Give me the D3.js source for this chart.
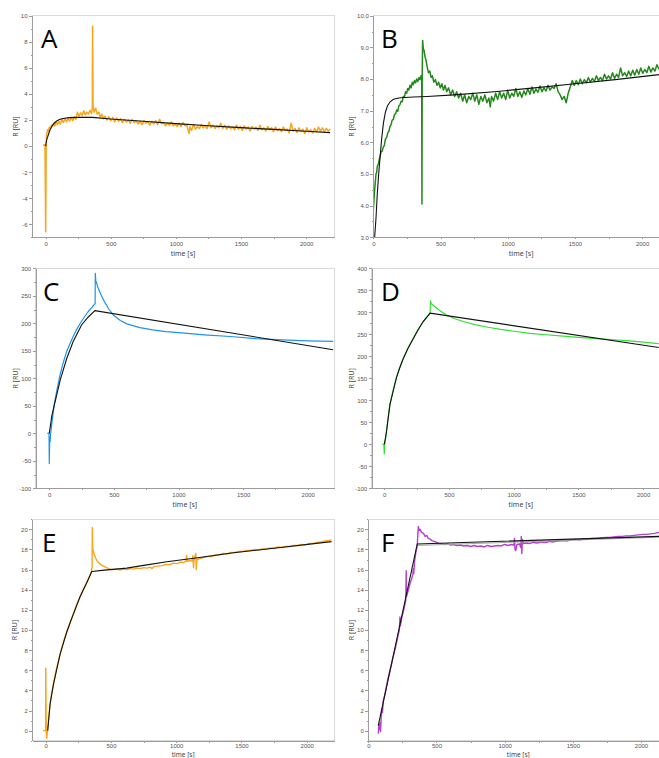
<!DOCTYPE html>
<html>
<head>
<meta charset="utf-8">
<script src="https://cdn.jsdelivr.net/npm/d3@7"></script>
<style>
body { margin: 0; background: #fff; }
svg { display: block; font-family: "Noto Sans", sans-serif; }
.tick text { fill: #555; font-size: 6px; }
.axis path, .axis line { stroke: #9c9c9c; shape-rendering: crispEdges; }
</style>
</head>
<body>
<svg id="chart" width="659" height="758"></svg>
<script>
// tick labels
const timeTicks = [0, 500, 1000, 1500, 2000];
const timeMinor = [250, 750, 1250, 1750];
const aTicks = [-6, -4, -2, 0, 2, 4, 6, 8, 10];
const aMinor = [-7, -5, -3, -1, 1, 3, 5, 7, 9];
const bTicks = [3, 4, 5, 6, 7, 8, 9, 10];
const bMinor = [3.5, 4.5, 5.5, 6.5, 7.5, 8.5, 9.5];
const cTicks = [-100, -50, 0, 50, 100, 150, 200, 250, 300];
const cMinor = [-75, -25, 25, 75, 125, 175, 225, 275];
const dTicks = [-100, -50, 0, 50, 100, 150, 200, 250, 300, 350, 400];
const dMinor = [-75, -25, 25, 75, 125, 175, 225, 275, 325, 375];
const efTicks = [0, 2, 4, 6, 8, 10, 12, 14, 16, 18, 20];
const efMinor = [-1, 1, 3, 5, 7, 9, 11, 13, 15, 17, 19, 21];

// series: [time s, response RU]
const aData = [[-20,0.05],[-10,0.1],[-5,0],[0,-6.57],[2,-3.4],[4,0.2],[8,0.9],[14,1.25],[20,1.1],[28,1.45],[36,1.35],[44,1.6],[52,1.5],[60,1.75],[70,1.55],[80,1.85],[90,1.65],[100,1.9],[112,1.7],[124,2.05],[136,1.8],[148,2.1],[160,1.85],[172,2.15],[184,1.9],[196,2.2],[208,1.95],[220,2.25],[232,2.05],[244,2.6],[256,2.3],[268,2.55],[280,2.35],[292,2.7],[304,2.4],[316,2.6],[328,2.45],[340,2.75],[352,2.5],[358,2.9],[360,9.2],[362,6.2],[364,3.0],[372,2.6],[384,2.9],[396,2.45],[408,2.6],[420,2.2],[432,2.45],[444,2.1],[456,2.3],[470,2.0],[485,2.25],[500,1.95],[515,2.2],[530,1.85],[545,2.15],[560,1.9],[575,2.1],[590,1.8],[605,2.05],[620,1.85],[635,2.0],[650,1.75],[665,2.05],[680,1.8],[695,1.95],[710,1.7],[725,1.9],[740,1.65],[755,1.95],[770,1.75],[785,1.85],[800,1.6],[815,1.9],[830,1.7],[845,1.95],[860,1.65],[875,2.05],[890,1.7],[905,1.8],[920,1.55],[935,1.75],[950,1.6],[965,1.85],[980,1.55],[995,1.7],[1010,1.5],[1025,1.75],[1040,1.5],[1055,1.8],[1070,1.55],[1085,1.6],[1100,0.95],[1108,1.5],[1120,1.2],[1135,1.65],[1150,1.3],[1165,1.5],[1180,1.35],[1195,1.65],[1210,1.4],[1225,1.55],[1240,1.35],[1255,1.85],[1270,1.4],[1285,1.6],[1300,1.35],[1315,1.55],[1330,1.4],[1345,1.75],[1360,1.35],[1375,1.6],[1390,1.3],[1405,1.55],[1420,1.35],[1435,1.45],[1450,1.25],[1465,1.6],[1480,1.3],[1495,1.5],[1510,1.2],[1525,1.55],[1540,1.3],[1555,1.45],[1570,1.15],[1585,1.5],[1600,1.3],[1615,1.45],[1630,1.2],[1645,1.6],[1660,1.25],[1675,1.4],[1690,1.15],[1705,1.5],[1720,1.25],[1735,1.4],[1750,1.1],[1765,1.45],[1780,1.2],[1795,1.35],[1810,1.1],[1825,1.45],[1840,1.2],[1855,1.3],[1870,1.0],[1885,1.75],[1900,1.15],[1915,1.35],[1930,1.05],[1945,1.4],[1960,1.1],[1975,1.3],[1990,0.95],[2005,1.4],[2020,1.1],[2035,1.25],[2050,1.0],[2065,1.35],[2080,1.1],[2095,1.45],[2110,1.15],[2125,1.4],[2140,1.1],[2155,1.35],[2170,1.15],[2184,1.3]];
const aFit = [[0,0],[5,0.35],[10,0.55],[20,0.85],[33,1.23],[50,1.55],[65,1.75],[84,1.92],[110,2.05],[135,2.12],[180,2.18],[250,2.2],[360,2.2],[500,2.07],[750,1.9],[1000,1.72],[1250,1.56],[1500,1.41],[1750,1.28],[2000,1.14],[2184,1.03]];

const bData = [[0,3.85],[4,4.1],[8,4.4],[12,4.6],[16,4.8],[20,5.0],[25,5.05],[30,5.25],[37,5.3],[44,5.45],[50,5.55],[58,5.7],[66,5.72],[74,5.85],[82,5.9],[90,6.1],[99,6.15],[108,6.3],[116,6.35],[124,6.5],[132,6.55],[140,6.7],[149,6.72],[158,6.88],[166,6.9],[174,7.02],[182,6.98],[190,7.15],[199,7.2],[207,7.3],[215,7.28],[223,7.45],[231,7.42],[240,7.6],[248,7.55],[256,7.7],[264,7.65],[273,7.8],[281,7.72],[290,7.9],[298,7.82],[306,7.95],[315,7.88],[323,8.0],[331,7.92],[340,8.05],[348,7.98],[355,8.1],[360,8.0],[362,4.05],[364,8.2],[367,9.22],[372,8.95],[378,8.9],[385,8.7],[392,8.6],[400,8.4],[410,8.2],[420,8.25],[430,8.05],[440,8.1],[450,7.9],[462,7.98],[474,7.8],[486,7.9],[498,7.72],[510,7.85],[522,7.65],[534,7.8],[546,7.6],[560,7.72],[575,7.5],[590,7.65],[605,7.45],[620,7.6],[635,7.4],[650,7.55],[665,7.3],[680,7.5],[695,7.25],[710,7.45],[725,7.35],[740,7.55],[755,7.3],[770,7.5],[785,7.2],[800,7.45],[815,7.3],[830,7.5],[845,7.25],[860,7.4],[870,7.12],[880,7.45],[895,7.3],[910,7.55],[925,7.35],[940,7.6],[955,7.4],[970,7.55],[985,7.35],[1000,7.65],[1015,7.4],[1030,7.55],[1045,7.45],[1060,7.7],[1075,7.45],[1090,7.6],[1105,7.42],[1120,7.62],[1135,7.5],[1150,7.7],[1165,7.52],[1180,7.75],[1195,7.55],[1210,7.68],[1225,7.58],[1240,7.78],[1255,7.6],[1270,7.72],[1285,7.62],[1300,7.8],[1315,7.65],[1330,7.75],[1345,7.7],[1360,7.85],[1375,7.6],[1390,7.5],[1405,7.35],[1420,7.45],[1435,7.25],[1450,7.55],[1465,7.75],[1480,7.95],[1495,7.8],[1510,7.95],[1525,7.82],[1540,8.0],[1555,7.85],[1570,7.98],[1585,7.88],[1600,8.05],[1615,7.9],[1630,8.02],[1645,7.92],[1660,8.1],[1675,7.95],[1690,8.05],[1705,7.95],[1720,8.15],[1735,8.0],[1750,8.1],[1765,8.0],[1780,8.2],[1795,8.02],[1810,8.15],[1825,8.05],[1840,8.35],[1855,8.1],[1870,8.2],[1885,8.08],[1900,8.25],[1915,8.1],[1930,8.28],[1945,8.12],[1960,8.3],[1975,8.15],[1990,8.35],[2005,8.18],[2020,8.3],[2035,8.2],[2050,8.4],[2065,8.22],[2080,8.35],[2095,8.25],[2110,8.45],[2127,8.3]];
const bFit = [[10,3.0],[20,3.6],[30,4.4],[40,5.0],[50,5.5],[62,6.1],[75,6.6],[90,6.95],[105,7.15],[125,7.28],[150,7.36],[200,7.41],[300,7.43],[400,7.45],[600,7.5],[900,7.6],[1200,7.72],[1500,7.85],[1800,7.98],[2127,8.14]];

const cData = [[-15,0],[-2,0],[0,-55],[2,-30],[4,-8],[7,-15],[10,-2],[15,8],[25,28],[40,55],[60,80],[85,108],[110,130],[135,149],[160,163],[185,176],[210,188],[240,200],[270,211],[300,221],[330,229],[355,236],[356,291],[360,278],[375,266],[400,252],[430,238],[460,226],[500,214],[550,205],[600,199],[700,192],[800,188],[900,185],[1000,183],[1200,179],[1400,176],[1600,172],[1800,170],[2000,168],[2196,167]];
const cFit = [[0,0],[20,32],[50,62],[85,97],[135,136],[185,167],[250,197],[300,211],[353,223],[2196,152]];

const dData = [[-15,0],[-3,0],[0,-22],[3,-5],[6,5],[12,18],[18,32],[30,62],[44,92],[70,125],[95,153],[120,175],[147,195],[185,220],[224,241],[260,261],[301,279],[330,290],[353,298],[355,303],[357,326],[362,320],[378,316],[420,306],[481,294],[540,286],[610,279],[700,272],[800,266],[900,261],[1000,257],[1125,252],[1250,249],[1382,246],[1500,243],[1640,240],[1800,237],[1897,235],[2000,232],[2121,229]];
const dFit = [[0,0],[10,15],[18,30],[44,90],[70,122],[95,152],[120,174],[147,195],[185,219],[224,240],[260,259],[301,279],[355,298],[2121,220]];

const eData = [[-20,0],[-5,0],[-1,0.05],[0,6.2],[2,3.2],[4,-0.2],[8,-0.75],[11,-0.3],[15,0.1],[22,1.2],[33,2.6],[45,3.7],[59,4.6],[80,6.0],[110,7.6],[135,8.8],[161,9.8],[185,10.7],[212,11.6],[240,12.6],[263,13.3],[290,14.1],[314,14.7],[335,15.3],[350,15.8],[355,16.3],[357,20.2],[359,18.5],[362,17.9],[370,17.6],[380,17.2],[392,16.9],[404,16.7],[420,16.5],[442,16.35],[465,16.2],[493,16.05],[520,16.0],[545,16.05],[570,15.95],[595,16.05],[620,16.0],[645,16.1],[672,16.05],[700,16.15],[725,16.1],[750,16.2],[775,16.15],[800,16.25],[815,16.1],[830,16.3],[860,16.35],[890,16.4],[920,16.5],[950,16.5],[980,16.65],[1005,16.6],[1030,16.75],[1055,16.7],[1075,16.85],[1080,17.4],[1083,16.8],[1100,16.9],[1120,16.85],[1128,17.4],[1132,16.2],[1137,17.0],[1150,17.6],[1153,16.0],[1158,17.0],[1180,17.1],[1210,17.2],[1240,17.3],[1270,17.3],[1300,17.45],[1330,17.45],[1360,17.6],[1390,17.55],[1420,17.7],[1450,17.7],[1480,17.8],[1510,17.8],[1540,17.9],[1570,17.9],[1600,18.0],[1630,17.95],[1660,18.05],[1690,18.05],[1720,18.15],[1750,18.1],[1780,18.25],[1810,18.2],[1840,18.3],[1870,18.3],[1900,18.4],[1930,18.4],[1960,18.5],[1990,18.45],[2020,18.6],[2050,18.6],[2080,18.7],[2110,18.75],[2140,18.85],[2170,18.9],[2190,18.95]];
const eFit = [[15,0],[33,2.6],[59,4.6],[110,7.6],[161,9.8],[212,11.6],[263,13.3],[314,14.7],[353,15.82],[450,15.95],[621,16.15],[750,16.42],[928,16.78],[1150,17.15],[1439,17.67],[1800,18.2],[2190,18.78]];

const fData = [[73,-0.3],[78,0.6],[82,0.1],[86,0.8],[90,-0.1],[95,1.5],[100,2.2],[104,1.8],[110,3.0],[120,3.5],[135,4.5],[145,5.2],[159,6.0],[170,6.6],[180,7.2],[195,8.0],[208,8.8],[220,9.6],[228,10.0],[232,11.3],[235,10.4],[245,11.2],[258,11.9],[268,12.5],[275,13.0],[278,15.9],[280,13.3],[290,13.8],[305,14.6],[318,15.1],[326,15.5],[330,16.1],[333,15.6],[340,16.9],[350,17.8],[359,18.4],[362,19.2],[367,20.3],[372,19.9],[380,20.0],[391,19.7],[405,19.6],[416,19.3],[428,19.4],[440,19.1],[455,19.0],[470,18.85],[485,18.8],[500,18.7],[520,18.6],[540,18.55],[560,18.5],[580,18.55],[600,18.45],[625,18.5],[650,18.4],[675,18.45],[700,18.35],[725,18.4],[750,18.3],[775,18.4],[800,18.3],[825,18.35],[850,18.25],[875,18.4],[900,18.3],[925,18.35],[950,18.4],[975,18.35],[1000,18.5],[1025,18.4],[1050,18.5],[1068,18.45],[1072,19.1],[1076,18.0],[1082,17.9],[1090,18.5],[1110,18.55],[1118,18.2],[1122,19.3],[1126,17.6],[1130,19.0],[1140,18.6],[1160,18.65],[1186,18.6],[1210,18.7],[1240,18.65],[1270,18.75],[1300,18.7],[1330,18.8],[1360,18.75],[1390,18.85],[1430,18.9],[1460,18.85],[1490,18.95],[1520,19.0],[1550,18.95],[1580,19.05],[1610,19.0],[1640,19.1],[1675,19.1],[1710,19.15],[1740,19.2],[1770,19.2],[1800,19.25],[1830,19.3],[1860,19.3],[1890,19.35],[1919,19.35],[1950,19.4],[1980,19.45],[2010,19.5],[2040,19.5],[2070,19.55],[2100,19.6],[2132,19.7]];
const fFit = [[73,0.5],[359,18.55],[2132,19.3]];
const fFitGrey = [[359,18.4],[2132,19.22]];

const svg = d3.select("#chart");

const panels = [
    { id: "A", data: aData, fit: aFit, color: "#f9a51c", width: 1.5, left: 32, right: 334, top: 15.7, bottom: 237.3, xDomain: [-105, 2214], yDomain: [-7, 10], ticks: aTicks, minor: aMinor, fmt: d => String(d), letterX: 41, labelX: 17.5 },
    { id: "B", data: bData, fit: bFit, color: "#24891c", width: 1.5, left: 373.3, right: 669, top: 15.7, bottom: 237.3, xDomain: [0, 2200], yDomain: [3, 10], ticks: bTicks, minor: bMinor, fmt: d => d.toFixed(1), letterX: 381, labelX: 354 },
    { id: "C", data: cData, fit: cFit, color: "#1e93ee", width: 1.2, left: 35.7, right: 334, top: 268.3, bottom: 488.3, xDomain: [-105, 2203], yDomain: [-100, 300], ticks: cTicks, minor: cMinor, fmt: d => String(d), letterX: 43, labelX: 17.5 },
    { id: "D", data: dData, fit: dFit, color: "#33e033", width: 1.2, left: 371.7, right: 670, top: 268.3, bottom: 488.3, xDomain: [-97, 2208], yDomain: [-100, 400], ticks: dTicks, minor: dMinor, fmt: d => String(d), letterX: 381, labelX: 354 },
    { id: "E", data: eData, fit: eFit, color: "#f9a51c", width: 1.4, left: 32.3, right: 334, top: 519.3, bottom: 740.7, xDomain: [-103, 2209], yDomain: [-1, 21], ticks: efTicks, minor: efMinor, fmt: d => String(d), letterX: 42, labelX: 17.3 },
    { id: "F", data: fData, fit: fFit, grey: fFitGrey, color: "#b43fd0", width: 1.4, left: 368.3, right: 668.3, top: 519.3, bottom: 740.7, xDomain: [0, 2200], yDomain: [-1, 21], ticks: efTicks, minor: efMinor, fmt: d => String(d), letterX: 381, labelX: 353.8 }
];

function drawPanel(p) {
    const x = d3.scaleLinear().domain(p.xDomain).range([p.left, p.right]);
    const y = d3.scaleLinear().domain(p.yDomain).range([p.bottom, p.top]);
    const g = svg.append("g");
    const lastRow = p.bottom > 700;

    // light frame (top / right)
    g.append("rect")
        .attr("x", p.left).attr("y", p.top)
        .attr("width", p.right - p.left).attr("height", p.bottom - p.top)
        .attr("fill", "none").attr("stroke", "#dadada")
        .attr("shape-rendering", "crispEdges");

    g.append("clipPath").attr("id", "clip" + p.id)
        .append("rect")
        .attr("x", p.left).attr("y", p.top)
        .attr("width", p.right - p.left).attr("height", p.bottom - p.top);

    const line = d3.line().x(d => x(d[0])).y(d => y(d[1]));
    const plot = g.append("g").attr("clip-path", `url(#clip${p.id})`);

    plot.append("path").datum(p.data)
        .attr("d", line).attr("fill", "none")
        .attr("stroke", p.color).attr("stroke-width", p.width)
        .attr("stroke-linejoin", "round");

    if (p.grey) {
        plot.append("path").datum(p.grey)
            .attr("d", line).attr("fill", "none")
            .attr("stroke", "#a8a8a8").attr("stroke-width", 1);
    }

    plot.append("path").datum(p.fit)
        .attr("d", line).attr("fill", "none")
        .attr("stroke", "#111").attr("stroke-width", 1.1);

    // y axis
    g.append("g").attr("class", "axis")
        .attr("transform", `translate(${p.left},0)`)
        .call(d3.axisLeft(y).tickValues(p.minor).tickSize(1.5).tickSizeOuter(0).tickFormat(""));
    g.append("g").attr("class", "axis")
        .attr("transform", `translate(${p.left},0)`)
        .call(d3.axisLeft(y).tickValues(p.ticks).tickSize(3).tickSizeOuter(0).tickPadding(1.5).tickFormat(p.fmt));

    // x axis
    g.append("g").attr("class", "axis")
        .attr("transform", `translate(0,${p.bottom})`)
        .call(d3.axisBottom(x).tickValues(timeMinor).tickSize(2).tickSizeOuter(0).tickFormat(""));
    g.append("g").attr("class", "axis")
        .attr("transform", `translate(0,${p.bottom})`)
        .call(d3.axisBottom(x).tickValues(timeTicks).tickSize(2).tickSizeOuter(0)
            .tickPadding(lastRow ? 1 : 2.5).tickFormat(d => String(d)));

    // bottom row: squeeze the axis title so it stays inside the page
    g.append("text")
        .attr("x", (p.left + p.right) / 2).attr("y", lastRow ? 757 : p.bottom + 19)
        .attr("text-anchor", "middle")
        .attr("font-size", lastRow ? 6.5 : 7).attr("fill", "#444")
        .text("time [s]");

    g.append("text")
        .attr("transform", `translate(${p.labelX},${(p.top + p.bottom) / 2}) rotate(-90)`)
        .attr("text-anchor", "middle")
        .attr("font-size", 7).attr("fill", "#444")
        .text("R [RU]");

    g.append("text")
        .attr("x", p.letterX).attr("y", p.top + 32.5)
        .attr("font-family", "'Open Sans', sans-serif")
        .attr("font-size", 26).attr("fill", "#000")
        .text(p.id);
}

panels.forEach(drawPanel);
</script>
</body>
</html>
